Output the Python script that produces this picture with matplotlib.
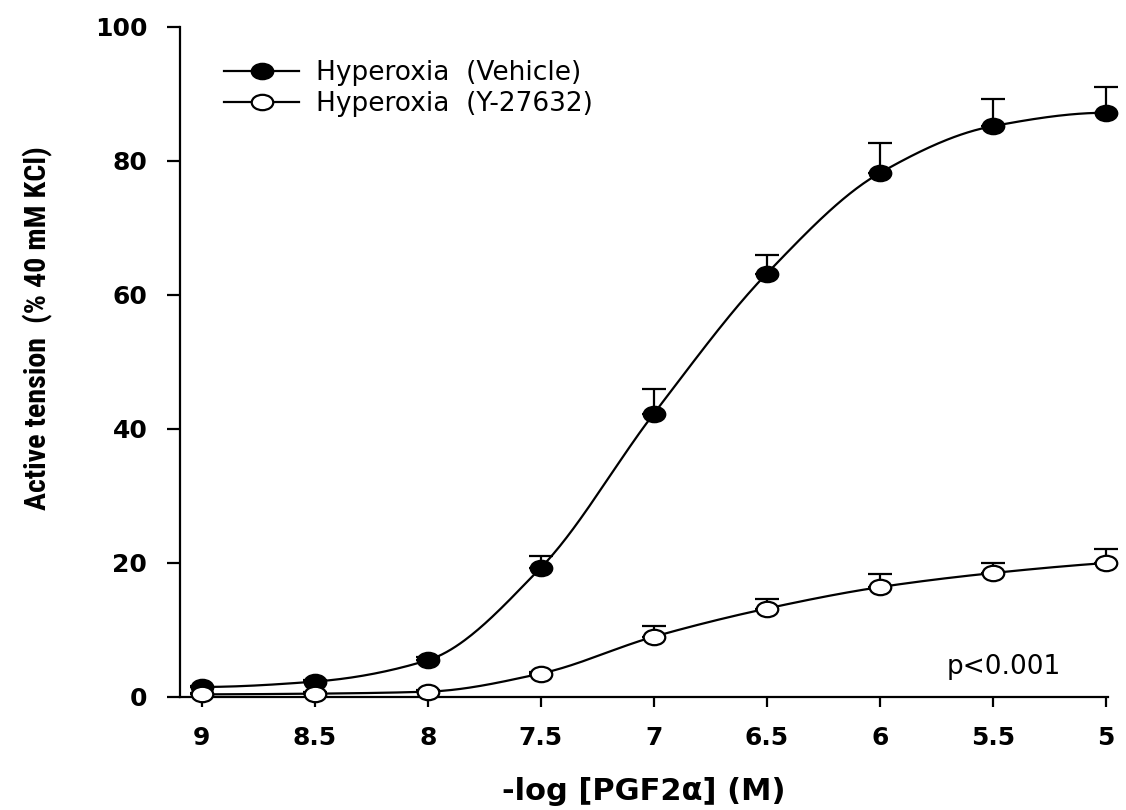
import numpy as np
import matplotlib
matplotlib.use("Agg")
import matplotlib.pyplot as plt
from matplotlib.lines import Line2D
from matplotlib.path import Path
from matplotlib.transforms import Affine2D
from matplotlib import font_manager

# ---------------- data ----------------
x_neglog = [9, 8.5, 8, 7.5, 7, 6.5, 6, 5.5, 5]
vehicle_mean = [1.5, 2.3, 5.5, 19.3, 42.3, 63.2, 78.2, 85.2, 87.2]
vehicle_sem = [0.2, 0.2, 0.4, 1.7, 3.7, 2.8, 4.5, 4.1, 3.8]
y27632_mean = [0.4, 0.5, 0.8, 3.5, 9.0, 13.2, 16.4, 18.5, 20.0]
y27632_sem = [0.2, 0.2, 0.2, 0.3, 1.6, 1.4, 2.0, 1.5, 2.1]
xtick_labels = ["9", "8.5", "8", "7.5", "7", "6.5", "6", "5.5", "5"]
ytick_vals = [0, 20, 40, 60, 80, 100]
legend_labels = ["Hyperoxia  (Vehicle)", "Hyperoxia  (Y-27632)"]
xlabel = "-log [PGF2\u03b1] (M)"
ylabel = "Active tension  (% 40 mM KCl)"
annot = "p<0.001"


def smooth_line(x, y, n=400):
    """Monotone cubic (PCHIP) smooth line through the data points."""
    x = np.asarray(x, float)
    y = np.asarray(y, float)
    order = np.argsort(x)
    x, y = x[order], y[order]
    h = np.diff(x)
    dl = np.diff(y) / h
    d = np.zeros_like(y)
    for k in range(1, len(x) - 1):
        if dl[k - 1] * dl[k] > 0:
            w1 = 2 * h[k] + h[k - 1]
            w2 = h[k] + 2 * h[k - 1]
            d[k] = (w1 + w2) / (w1 / dl[k - 1] + w2 / dl[k])
    def endpoint(h0, h1, d0, d1):
        v = ((2 * h0 + h1) * d0 - h0 * d1) / (h0 + h1)
        if np.sign(v) != np.sign(d0):
            return 0.0
        if np.sign(d0) != np.sign(d1) and abs(v) > 3 * abs(d0):
            return 3 * d0
        return v
    d[0] = endpoint(h[0], h[1], dl[0], dl[1])
    d[-1] = endpoint(h[-1], h[-2], dl[-1], dl[-2])
    xs = np.linspace(x[0], x[-1], n)
    idx = np.clip(np.searchsorted(x, xs) - 1, 0, len(x) - 2)
    t = (xs - x[idx]) / h[idx]
    h00 = 2 * t**3 - 3 * t**2 + 1
    h10 = t**3 - 2 * t**2 + t
    h01 = -2 * t**3 + 3 * t**2
    h11 = t**3 - t**2
    ys = h00 * y[idx] + h10 * h[idx] * d[idx] + h01 * y[idx + 1] + h11 * h[idx] * d[idx + 1]
    return xs, ys


# pick the narrowest available bold sans for the y label
entries = font_manager.fontManager.ttflist
names = {f.name for f in entries}
ylab_family, ylab_stretch = "Liberation Sans", "normal"
for cand in ["Liberation Sans Narrow", "Arial Narrow", "Roboto Condensed", "Open Sans Condensed",
             "Noto Sans Condensed", "DejaVu Sans Condensed"]:
    if cand in names:
        ylab_family = cand
        break
else:
    for f in entries:
        if f.name in ("Noto Sans", "Open Sans", "Roboto", "DejaVu Sans") and \
                str(f.stretch) in ("condensed", "semi-condensed", "extra-condensed", "75", "87.5", "62.5"):
            ylab_family, ylab_stretch = f.name, "condensed"
            break

ellipse = Path.unit_circle().transformed(Affine2D().scale(1.4, 1.0))
MS = 15.5
LW = 1.6

fig = plt.figure(figsize=(11.26, 8.10), dpi=100)
ax = fig.add_axes([180 / 1126, 1 - 697 / 810, (1108 - 180) / 1126, (697 - 27) / 810])

for mean, sem, face in [(vehicle_mean, vehicle_sem, "black"), (y27632_mean, y27632_sem, "white")]:
    xs, ys = smooth_line(x_neglog, mean)
    ax.plot(xs, ys, color="black", lw=LW, zorder=2, clip_on=False)
    ax.errorbar(x_neglog, mean, yerr=[np.zeros(len(sem)), sem], fmt="none",
                ecolor="black", elinewidth=LW, capsize=8.5, capthick=LW, zorder=3, clip_on=False)
    ax.plot(x_neglog, mean, linestyle="none", marker=ellipse, ms=MS, mfc=face, mec="black",
            mew=LW, zorder=4, clip_on=False)

ax.set_xlim(9.097, 4.99)
ax.set_ylim(0, 100)
ax.set_xticks(x_neglog)
ax.set_xticklabels(xtick_labels)
ax.set_yticks(ytick_vals)
for s in ["top", "right"]:
    ax.spines[s].set_visible(False)
for s in ["left", "bottom"]:
    ax.spines[s].set_linewidth(LW)
ax.tick_params(axis="y", direction="out", length=9.5, width=LW, pad=14)
ax.tick_params(axis="x", direction="out", length=7, width=LW, pad=14)
for lab in ax.get_xticklabels() + ax.get_yticklabels():
    lab.set_fontfamily("DejaVu Sans")
    lab.set_fontweight("bold")
    lab.set_fontsize(18)

ax.set_xlabel(xlabel, fontsize=22, fontweight="bold", family="DejaVu Sans")
ax.xaxis.set_label_coords(0.5, -(800 - 697) / 670)
ax.xaxis.label.set_va("baseline")

ylab = ax.set_ylabel(ylabel, fontsize=18, fontweight="bold", family=[ylab_family, "DejaVu Sans"],
                     fontstretch=ylab_stretch)
ax.yaxis.set_label_coords((53 - 180) / 928, (697 - 328) / 670)
# scale the y label so that its length matches the reference (~363 px)
fig.canvas.draw()
ext = ylab.get_window_extent()
if ext.height > 0:
    ylab.set_fontsize(18 * 363.0 / ext.height)

handles = [Line2D([], [], color="black", lw=LW, marker=ellipse, ms=MS, mfc="black", mec="black", mew=LW),
           Line2D([], [], color="black", lw=LW, marker=ellipse, ms=MS, mfc="white", mec="black", mew=LW)]
leg = ax.legend(handles, legend_labels, loc="upper left", bbox_to_anchor=(224 / 1126, 1 - 60 / 810),
                bbox_transform=fig.transFigure, frameon=False, handlelength=2.85, handletextpad=0.65,
                labelspacing=0.2, borderpad=0, borderaxespad=0,
                prop={"family": "DejaVu Sans", "size": 19})

ax.text(1004 / 1126, 1 - 667 / 810, annot, transform=fig.transFigure, ha="center", va="center",
        fontsize=19, family="DejaVu Sans")

fig.savefig("out.png", dpi=100)
